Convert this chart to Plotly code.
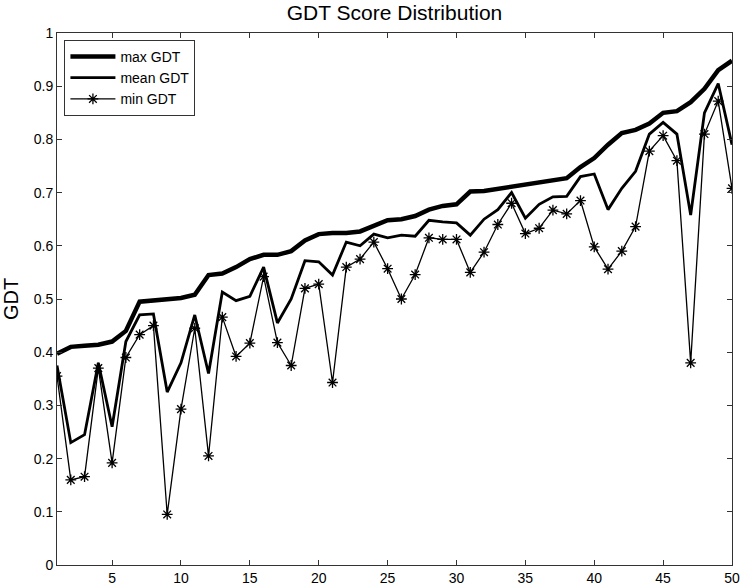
import plotly.graph_objects as go

x_vals = list(range(1, 51))
max_gdt = [0.397, 0.410, 0.412, 0.414, 0.420, 0.440, 0.495, 0.497, 0.498, 0.502,
           0.508, 0.545, 0.548, 0.560, 0.575, 0.583, 0.583, 0.590, 0.610, 0.622,
           0.624, 0.624, 0.627, 0.638, 0.648, 0.650, 0.656, 0.668, 0.675, 0.678,
           0.702, 0.703, 0.707, 0.712, 0.714, 0.718, 0.722, 0.727, 0.748, 0.765,
           0.790, 0.812, 0.818, 0.830, 0.850, 0.853, 0.870, 0.895, 0.930, 0.948]
mean_gdt = [0.375, 0.230, 0.245, 0.380, 0.260, 0.420, 0.470, 0.472, 0.325, 0.380,
            0.470, 0.360, 0.513, 0.497, 0.505, 0.560, 0.455, 0.500, 0.572, 0.570,
            0.545, 0.607, 0.600, 0.622, 0.615, 0.620, 0.618, 0.648, 0.645, 0.643,
            0.620, 0.650, 0.668, 0.700, 0.652, 0.678, 0.692, 0.693, 0.730, 0.735,
            0.668, 0.708, 0.740, 0.810, 0.832, 0.810, 0.658, 0.850, 0.905, 0.790]
min_gdt = [0.355, 0.160, 0.166, 0.370, 0.192, 0.390, 0.433, 0.450, 0.095, 0.293,
           0.445, 0.205, 0.466, 0.392, 0.417, 0.542, 0.418, 0.375, 0.520, 0.528,
           0.343, 0.560, 0.575, 0.607, 0.557, 0.500, 0.546, 0.615, 0.612, 0.612,
           0.550, 0.588, 0.640, 0.680, 0.623, 0.633, 0.667, 0.660, 0.685, 0.598,
           0.556, 0.590, 0.636, 0.778, 0.807, 0.760, 0.380, 0.810, 0.872, 0.708]

x_ticks = [5, 10, 15, 20, 25, 30, 35, 40, 45, 50]
y_ticks = [0, 0.1, 0.2, 0.3, 0.4, 0.5, 0.6, 0.7, 0.8, 0.9, 1]
y_tick_labels = ["0", "0.1", "0.2", "0.3", "0.4", "0.5", "0.6", "0.7", "0.8", "0.9", "1"]

font = "Liberation Sans, Arial, sans-serif"

fig = go.Figure()
fig.add_trace(go.Scatter(x=x_vals, y=max_gdt, mode="lines", name="max GDT",
                         line=dict(color="black", width=4.5)))
fig.add_trace(go.Scatter(x=x_vals, y=mean_gdt, mode="lines", name="mean GDT",
                         line=dict(color="black", width=2.8)))
fig.add_trace(go.Scatter(x=x_vals, y=min_gdt, mode="lines+markers", name="min GDT",
                         line=dict(color="black", width=1.3),
                         marker=dict(symbol="asterisk-open", size=9, color="black",
                                     line=dict(color="black", width=1.3))))

fig.update_layout(
    width=744, height=588,
    margin=dict(l=57, r=12, t=33, b=23, autoexpand=False),
    paper_bgcolor="white", plot_bgcolor="white",
    font=dict(family=font, size=14, color="black"),
    title=dict(text="GDT Score Distribution", x=0.5, xref="paper", xanchor="center",
               y=0.978, yanchor="middle", font=dict(size=21, family=font)),
    showlegend=True,
    legend=dict(x=0.011, y=0.987, xanchor="left", yanchor="top",
                bgcolor="white", bordercolor="#333", borderwidth=1,
                font=dict(size=14, family=font), tracegroupgap=0,
                itemwidth=45),
)
fig.update_xaxes(range=[1, 50], tickvals=x_ticks, ticks="inside", ticklen=5,
                 tickcolor="#333", showline=True, linecolor="#333", linewidth=1,
                 mirror="ticks", showgrid=False, zeroline=False, automargin=False,
                 tickfont=dict(size=14, family=font))
fig.update_yaxes(range=[0, 1], tickvals=y_ticks, ticktext=y_tick_labels,
                 ticks="inside", ticklen=5, tickcolor="#333",
                 showline=True, linecolor="#333", linewidth=1, mirror="ticks",
                 showgrid=False, zeroline=False, automargin=False,
                 title=dict(text="GDT", font=dict(size=20, family=font), standoff=16),
                 tickfont=dict(size=14, family=font))

fig.write_html("out.html", config={"displayModeBar": False},
               post_script="document.body.style.margin='0';document.body.style.overflow='hidden';")
